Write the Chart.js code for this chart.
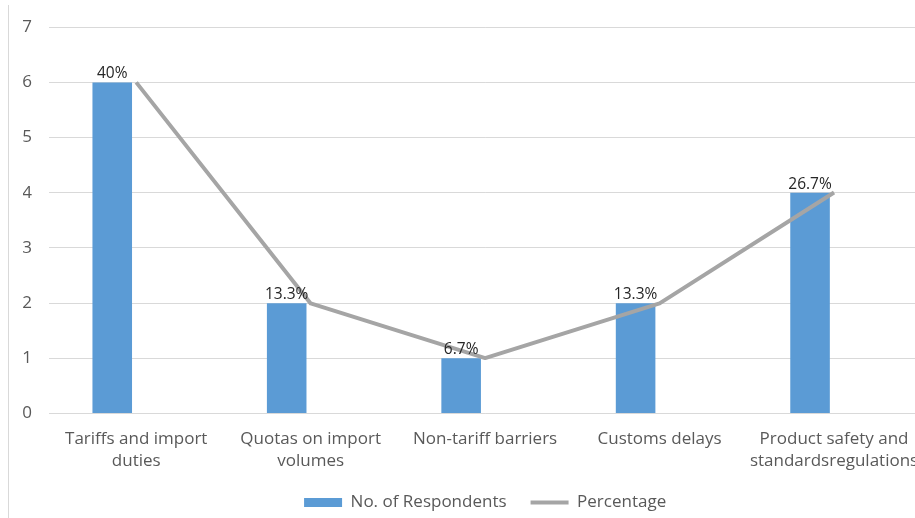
<!DOCTYPE html>
<html>
<head>
<meta charset="utf-8">
<script src="https://cdn.jsdelivr.net/npm/chart.js@4.4.1/dist/chart.umd.min.js"></script>
<style>
  html, body { margin: 0; padding: 0; background: #fff; overflow: hidden; }
  #wrap { position: relative; width: 915px; height: 518px; overflow: hidden; }
  #frame { position: absolute; left: 8px; top: 5px; bottom: 0; border-left: 1px solid #d9d9d9; }
  canvas { position: absolute; left: 0; top: 0; }
</style>
</head>
<body>
<div id="wrap">
  <div id="frame"></div>
  <canvas id="grafico" width="925" height="521"></canvas>
</div>
<script>
// dados
const categorias = [
    ['Tariffs and import', 'duties'],
    ['Quotas on import', 'volumes'],
    'Non-tariff barriers',
    'Customs delays',
    ['Product safety and', 'standardsregulations']
]
const respondentes = [6, 2, 1, 2, 4]
const percentuais = [40, 13.3, 6.7, 13.3, 26.7]
const eixoYMax = 7

const totalRespondentes = respondentes.reduce((a, b) => a + b, 0)
const fonte = "'Open Sans', 'Noto Sans', sans-serif"

// escreve o percentual em cima de cada barra
const rotulosPlugin = {
    id: 'rotulos',
    afterDatasetsDraw(chart) {
        const meta = chart.getDatasetMeta(0)
        const ctx = chart.ctx
        ctx.save()
        ctx.font = '15.5px ' + fonte
        ctx.fillStyle = '#262626'
        ctx.textAlign = 'center'
        ctx.textBaseline = 'alphabetic'
        meta.data.forEach((bar, i) => {
            ctx.fillText(percentuais[i] + '%', bar.x, bar.y - 4)
        })
        ctx.restore()
    }
}

const ctx = document.getElementById('grafico')

new Chart(ctx, {
    data: {
        labels: categorias,
        datasets: [{
            type: 'bar',
            label: 'No. of Respondents',
            data: respondentes,
            backgroundColor: '#5b9bd5',
            borderWidth: 0,
            pointStyle: 'rect',
            categoryPercentage: 0.55,
            barPercentage: 0.825,
            order: 2
        }, {
            // serie vazia so para empurrar a barra para a esquerda, como no Excel
            type: 'bar',
            label: 'espaco',
            data: respondentes.map(() => null),
            categoryPercentage: 0.55,
            barPercentage: 0.825,
            order: 3
        }, {
            type: 'line',
            label: 'Percentage',
            data: percentuais,
            yAxisID: 'y2',
            borderColor: '#a5a5a5',
            backgroundColor: '#a5a5a5',
            borderWidth: 4,
            borderJoinStyle: 'round',
            pointRadius: 0,
            pointStyle: 'line',
            tension: 0,
            order: 1
        }]
    },
    options: {
        responsive: false,
        animation: false,
        layout: { padding: { left: 23, right: 3, top: 24, bottom: 0 } },
        plugins: {
            tooltip: { enabled: false },
            legend: {
                position: 'bottom',
                fullSize: false,
                labels: {
                    usePointStyle: true,
                    pointStyleWidth: 38,
                    boxHeight: 9,
                    padding: 24,
                    color: '#595959',
                    font: { family: fonte, size: 17 },
                    filter: (item) => item.datasetIndex !== 1,
                    sort: (a, b) => a.datasetIndex - b.datasetIndex
                }
            }
        },
        scales: {
            x: {
                grid: { display: false },
                border: { display: false },
                ticks: {
                    color: '#595959',
                    font: { family: fonte, size: 17, lineHeight: 1.3 },
                    padding: 6.5,
                    maxRotation: 0,
                    autoSkip: false
                },
                afterFit(scale) { scale.height = 56.5 }
            },
            y: {
                min: 0,
                max: eixoYMax,
                border: { display: false },
                grid: { color: '#d9d9d9', drawTicks: false },
                ticks: {
                    stepSize: 1,
                    color: '#595959',
                    font: { family: fonte, size: 17 },
                    padding: 17
                },
                afterFit(scale) { scale.width = 26 }
            },
            y2: {
                display: false,
                min: 0,
                max: eixoYMax * 100 / totalRespondentes
            }
        }
    },
    plugins: [rotulosPlugin]
})
</script>
</body>
</html>
